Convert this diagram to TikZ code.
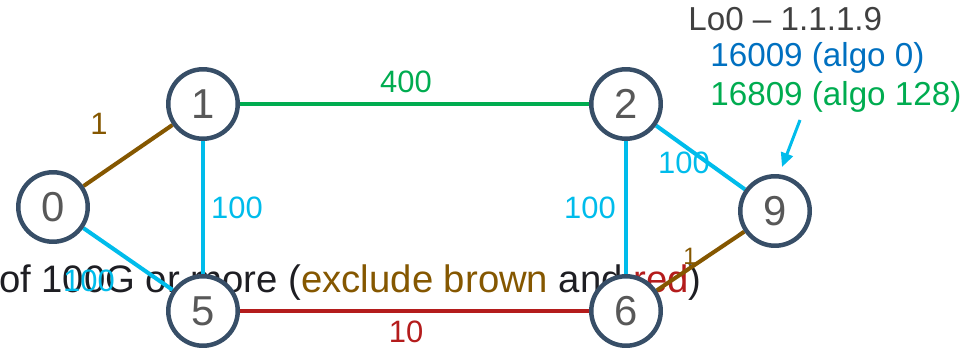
\documentclass[tikz,border=0pt]{standalone}
\usepackage{fontspec}
\setmainfont{Liberation Sans}
\usetikzlibrary{arrows.meta}
\definecolor{brownc}{RGB}{133,87,0}
\definecolor{greenc}{RGB}{0,172,80}
\definecolor{cyanc}{RGB}{0,188,235}
\definecolor{redc}{RGB}{180,28,28}
\definecolor{bluec}{RGB}{0,112,192}
\definecolor{ringc}{RGB}{55,78,103}
\definecolor{digitc}{RGB}{88,88,88}
\definecolor{textc}{RGB}{30,30,35}
\definecolor{loc}{RGB}{64,64,64}
\pgfdeclarelayer{txt}
\pgfdeclarelayer{edges}
\pgfsetlayers{txt,edges,main}
\begin{document}
\begin{tikzpicture}[x=0.02cm,y=-0.02cm,
  router/.style={circle,draw=ringc,line width=2.55pt,fill=white,minimum size=1.39cm,inner sep=0pt,text=digitc,font=\fontsize{23.8}{28}\selectfont},
  link/.style={line width=2.3pt},
  cost/.style={inner sep=0pt,font=\fontsize{17.6}{20}\selectfont},
  smallcost/.style={inner sep=0pt,font=\fontsize{13.5}{16}\selectfont},
  info/.style={inner sep=0pt,anchor=base west,font=\fontsize{18.9}{22}\selectfont}]
\useasboundingbox (0,0) rectangle (969,349);
% background note text
\begin{pgfonlayer}{txt}
\node[anchor=base east,inner sep=0pt,text=textc,font=\fontsize{21.8}{26}\selectfont] (note) at (702,292)
  {of 100G or more (\textcolor{brownc}{exclude brown} and \textcolor{redc}{red})};
\end{pgfonlayer}
% routers
\node[router] (n0) at (53,207) {0};
\node[router] (n1) at (203,104) {1};
\node[router] (n2) at (626,104) {2};
\node[router] (n5) at (203,311) {5};
\node[router] (n6) at (626,311) {6};
\node[router] (n9) at (775,211) {9};
% links
\begin{pgfonlayer}{edges}
\draw[link,brownc] (n0) -- (n1);
\draw[link,cyanc] (n0) -- (n5);
\draw[link,greenc] (n1) -- (n2);
\draw[link,cyanc] (n1) -- (n5);
\draw[link,redc] (n5) -- (n6);
\draw[link,cyanc] (n2) -- (n6);
\draw[link,cyanc] (n2) -- (n9);
\draw[link,brownc] (n6) -- (n9);
\end{pgfonlayer}
% costs
\node[cost,text=brownc] (c01) at (99,124) {1};
\node[cost,text=cyanc] (c05) at (89,281) {100};
\node[cost,text=greenc] (c12) at (406,82) {400};
\node[cost,text=cyanc] (c15) at (237,208) {100};
\node[cost,text=redc] (c56) at (406,332) {10};
\node[cost,text=cyanc] (c26) at (590,208) {100};
\node[cost,text=cyanc] (c29) at (684,163) {100};
\node[smallcost,text=brownc] (c69) at (690,256) {1};
% loopback info
\node[info,text=loc] (lo) at (688,30) {Lo0 – 1.1.1.9};
\node[info,text=bluec] (sida) at (710,66) {16009 (algo 0)};
\node[info,text=greenc] (sidb) at (710,105) {16809 (algo 128)};
\coordinate (arrs) at (800,120);
\coordinate (arre) at (782,167);
\draw[cyanc,line width=1.7pt,-{Triangle[length=8pt,width=7pt]}] (arrs) -- (arre);
\end{tikzpicture}
\end{document}
